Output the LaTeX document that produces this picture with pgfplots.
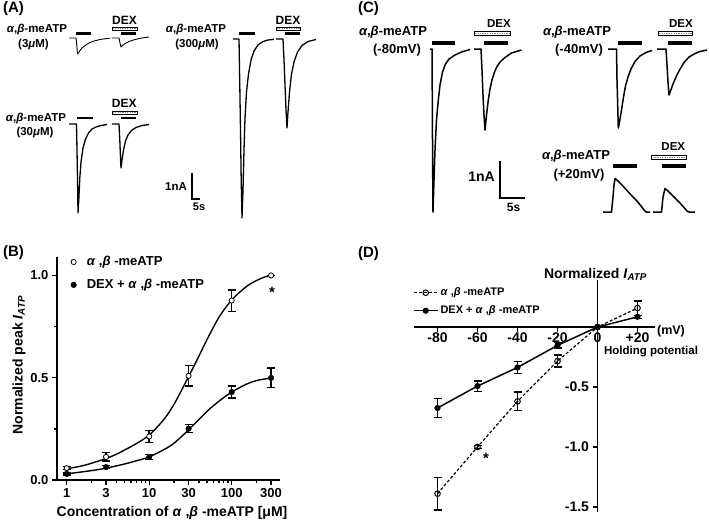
\documentclass[border=0pt]{standalone}
\usepackage{fontspec}
\setmainfont{Liberation Sans}
\usepackage{pgfplots}
\pgfplotsset{compat=1.18}

\newcommand{\fs}[1]{\fontsize{#1pt}{#1pt}\selectfont\bfseries}
\newcommand{\ab}{\textit{α},\textit{β}-meATP}
\newcommand{\absp}{\textit{α} ,\textit{β} -meATP}
% hatched DEX bar: x1 x2 y
\newcommand{\dexbar}[3]{%
  \draw[black, line width=0.6pt, fill=white] (#1,#3-1.6) rectangle (#2,#3+1.6);
  \draw[gray, line width=0.9pt, dash pattern=on 1.2pt off 1.2pt] (#1+0.8,#3) -- (#2-0.8,#3);}
% solid application bar: x1 x2 y width
\newcommand{\appbar}[4]{\draw[black, line width=#4] (#1,#3) -- (#2,#3);}

\pgfplotsset{trace/.style={black, line width=#1, line join=round, no marks}}

\begin{document}
\begin{tikzpicture}
\path[use as bounding box] (0pt,0pt) rectangle (709pt,-522pt);

% ---------- canvas in pixel units: panels A and C, all free text ----------
\begin{axis}[at={(0pt,0pt)}, anchor=north west, scale only axis,
  width=709pt, height=522pt, xmin=0, xmax=709, ymin=0, ymax=522,
  y dir=reverse, hide axis, clip=false]

% panel letters
\node[font=\fs{15}] at (13.5,9) {(A)};
\node[font=\fs{15}] at (13.5,253) {(B)};
\node[font=\fs{15}] at (368.5,9) {(C)};
\node[font=\fs{15}] at (368.5,254) {(D)};

% ---- A: 3 uM
\node[font=\fs{11.5}] at (37,30) {\ab};
\node[font=\fs{11.5}] at (33.5,45) {(3\textit{μ}M)};
\addplot[trace=0.9pt] coordinates {(69,38) (76,38) (76.8,45) (77.5,54) (78.5,53) (80,50.5) (82,48) (85,45.5) (89,43) (94,41) (100,39.5) (106,38.6) (110,38.2)};
\addplot[trace=0.9pt] coordinates {(112,38) (119,38) (120,43) (121,47) (122.5,45.5) (125,43.5) (129,41.5) (134,39.8) (140,38.3) (149,37)};
\appbar{76}{91}{33.3}{2.4pt}
\node[font=\fs{12}] at (124.5,20) {DEX};
\dexbar{112}{137}{28.7}
\appbar{121}{136}{33.3}{2.4pt}

% ---- A: 30 uM
\node[font=\fs{11.5}] at (36,119) {\ab};
\node[font=\fs{11.5}] at (35,133) {(30\textit{μ}M)};
\addplot[trace=1.3pt] coordinates {(69,124) (76.5,124) (77,150) (77.6,185) (78,213) (78.8,200) (79.8,178) (81,162) (83,148) (85.5,139) (88.5,133) (92,129) (96,127) (101,125.5) (107,124.5)};
\addplot[trace=1.3pt] coordinates {(112,124) (119,124) (119.8,140) (120.5,158) (121,168) (122,160) (123.5,150) (125.5,141) (128,135) (131.5,130.5) (136,127.5) (142,125.5) (149,124.5)};
\appbar{77.3}{92.7}{117.8}{2.4pt}
\node[font=\fs{12}] at (124.2,103.7) {DEX};
\dexbar{112}{137}{112.5}
\appbar{120.7}{136}{117.8}{2.4pt}

% ---- A: 300 uM
\node[font=\fs{11.5}] at (196,30) {\ab};
\node[font=\fs{11.5}] at (197,45) {(300\textit{μ}M)};
\addplot[trace=1.3pt] coordinates {(233,39) (239,39) (239.7,80) (240.5,130) (241.2,180) (242,218) (243,190) (244,150) (245,118) (246.5,92) (248.5,74) (251,60) (254,51) (258,45) (263,41.5) (268,40) (274,39.3)};
\addplot[trace=1.3pt] coordinates {(276,39) (283,39) (284,60) (285,85) (286,110) (287,128) (288,112) (289.5,92) (291.5,74) (294,62) (297.5,52) (302,45.5) (308,41.5) (316,39.5)};
\appbar{239.3}{255}{33.3}{2.4pt}
\node[font=\fs{12}] at (288,20) {DEX};
\dexbar{276}{300.7}{28.7}
\appbar{285}{300}{33.3}{2.4pt}

% ---- A: scale bar
\draw[line width=1.8pt] (192,173) -- (192,199) -- (200,199);
\node[font=\fs{11.5}] at (176,187) {1nA};
\node[font=\fs{11}] at (199,207) {5s};

% ---- C: -80 mV
\node[font=\fs{13}] at (393,32) {\ab};
\node[font=\fs{13}] at (397,50) {(-80mV)};
\addplot[trace=1.5pt] coordinates {(430,49) (432,49) (432.3,100) (432.6,160) (433,212) (434,180) (435,150) (436.5,120) (438.3,100) (440,85) (442.5,72) (445.5,64) (449,59) (455,55) (462,51.8) (470,49.5)};
\addplot[trace=1.5pt] coordinates {(474,49) (481,49) (482,70) (483,95) (484,115) (485,130) (486.5,115) (488.3,100) (490,89) (492,80) (494.5,72) (497,66.5) (500.5,61.5) (505,57.5) (511.5,53) (521.5,50)};
\appbar{432.3}{455}{43}{4pt}
\node[font=\fs{11.5}] at (499,23.3) {DEX};
\dexbar{474.3}{510}{33.3}
\appbar{484.3}{508.3}{43}{4pt}

% ---- C: -40 mV
\node[font=\fs{13}] at (577,32) {\ab};
\node[font=\fs{13}] at (579,50) {(-40mV)};
\addplot[trace=1.5pt] coordinates {(608,49) (616.5,49) (617,80) (617.7,105) (618.3,128) (619.5,122) (621.5,110) (623.5,97) (625.5,86) (628,77) (631,69) (635,61.5) (640,56) (646,52.5) (652,50.5)};
\addplot[trace=1.5pt] coordinates {(657,49) (666,49) (667,65) (668,82) (669,95) (670.5,91) (673,84) (676,77) (679.5,70) (684,62.5) (689,57) (695,53.5) (700,51.5) (707,50)};
\appbar{618.3}{641.7}{43}{4pt}
\node[font=\fs{11.5}] at (681,23.3) {DEX};
\dexbar{658.3}{692.3}{33.3}
\appbar{668.3}{692.3}{43}{4pt}

% ---- C: +20 mV
\node[font=\fs{13}] at (576,156) {\ab};
\node[font=\fs{13}] at (579,175) {(+20mV)};
\addplot[trace=1.5pt] coordinates {(603,212) (611.5,212) (613,197) (614,185) (615,178.5) (618,181) (622,185) (627,190.5) (632,196) (637,201) (641,206) (644,210) (646,212) (650,212)};
\addplot[trace=1.5pt] coordinates {(653,212) (661.5,212) (663,197) (665,188.5) (668,191) (672,195) (676,199) (680,203) (684,207.5) (687,211) (689,212) (695,212)};
\appbar{613.3}{636.7}{165.5}{4pt}
\node[font=\fs{11.5}] at (673.3,146.7) {DEX};
\dexbar{651.7}{686.7}{157.3}
\appbar{661.7}{685.7}{165.5}{4pt}

% ---- C: scale bar
\draw[line width=2.5pt] (500,161) -- (500,198) -- (525,198);
\node[font=\fs{14}] at (481.5,177) {1nA};
\node[font=\fs{12}] at (513.5,207) {5s};

% ---- B free text
\node[font=\fs{14}, rotate=90] at (19,365) {Normalized peak \textit{I}\textsubscript{\textit{ATP}}};
\node[font=\fs{14}] at (172,513) {Concentration of \textit{α} ,\textit{β} -meATP [μM]};
\node[font=\fs{15}] at (272,292) {*};

% ---- D free text
\node[font=\fs{14}] at (595.5,274) {Normalized \textit{I}\textsubscript{\textit{ATP}}};
\node[font=\fs{12.5}] at (671,331) {(mV)};
\node[font=\fs{11.5}] at (651,352) {Holding potential};
\node[font=\fs{15}] at (486,458) {*};
\end{axis}

% ---------- B: concentration-response ----------
\begin{axis}[at={(57pt,-480pt)}, anchor=south west, scale only axis,
  width=223pt, height=223pt, xmode=log, xmin=0.763, xmax=385, ymin=0, ymax=1.09,
  axis lines=left, axis line style={-, line width=1.5pt},
  xtick={1,3,10,30,100,300}, xticklabels={1,3,10,30,100,300},
  minor xtick={2,4,5,6,7,8,9,20,40,50,60,70,80,90,200},
  ytick={0,0.5,1}, yticklabels={0.0,0.5,1.0}, minor ytick={0.25,0.75},
  tick align=outside, major tick length=5pt, minor tick length=3pt,
  tick style={black, line width=1.3pt},
  tick label style={font=\fs{13}},
  clip=false,
  legend style={at={(rel axis cs:0.055,1.012)}, anchor=north west, draw=none, fill=none,
    font=\fs{13}, row sep=8pt, inner sep=0pt},
  legend cell align=left,
  legend image code/.code={\draw[#1] plot coordinates {(4pt,0pt)}; \path (0pt,0pt) (15pt,0pt);}]
\addplot[black, line width=1.4pt, smooth, forget plot] coordinates {(1,0.055) (1.5,0.068) (2,0.082) (3,0.105) (4,0.126) (5,0.146) (7,0.178) (10,0.22) (15,0.295) (20,0.37) (30,0.505) (40,0.605) (50,0.685) (70,0.795) (100,0.88) (150,0.945) (200,0.975) (250,0.992) (300,1.0)};
\addplot[black, line width=1.4pt, smooth, forget plot] coordinates {(1,0.03) (2,0.046) (3,0.058) (5,0.078) (7,0.094) (10,0.113) (15,0.148) (20,0.18) (30,0.245) (50,0.335) (70,0.385) (100,0.43) (150,0.468) (200,0.486) (300,0.499)};
\addplot[only marks, mark=*, mark size=2.6pt, mark options={fill=white, draw=black, line width=0.8pt},
  error bars/.cd, y dir=both, y explicit, error bar style={black, line width=1.4pt},
  error mark options={rotate=90, mark size=4pt, line width=1.4pt, black}]
  table[x=x, y=y, y error=e] {
x y e
1 0.058 0.008
3 0.113 0.02
10 0.213 0.03
30 0.509 0.05
100 0.877 0.052
300 1.0 0
};
\addlegendentry{\absp}
\addplot[only marks, mark=*, mark size=2.8pt, black,
  error bars/.cd, y dir=both, y explicit, error bar style={black, line width=1.4pt},
  error mark options={rotate=90, mark size=4pt, line width=1.4pt, black}]
  table[x=x, y=y, y error=e] {
x y e
1 0.03 0.005
3 0.063 0.008
10 0.112 0.013
30 0.251 0.02
100 0.43 0.03
300 0.499 0.048
};
\addlegendentry{DEX + \absp}
\end{axis}

% ---------- D: current-voltage ----------
\begin{axis}[at={(414pt,-512pt)}, anchor=south west, scale only axis,
  width=241pt, height=232pt, xmin=-91.75, xmax=28.75, ymin=-1.542, ymax=0.392,
  axis lines=middle, axis line style={-, line width=1.5pt},
  xtick={-80,-60,-40,-20,0,20}, xticklabels={-80,-60,-40,-20,0,+20},
  ytick={-1.5,-1,-0.5}, yticklabels={-1.5,-1.0,-0.5},
  hide obscured x ticks=false, hide obscured y ticks=false,
  tick align=outside, major tick length=5pt,
  tick style={black, line width=1.3pt},
  tick label style={font=\fs{14}},
  xticklabel style={yshift=2.5pt},
  clip=false,
  legend style={at={(rel axis cs:-0.005,0.975)}, anchor=north west, draw=none, fill=none,
    font=\fs{11}, row sep=4.5pt, inner sep=0pt},
  legend cell align=left,
  legend image code/.code={\draw[mark repeat=2, mark phase=2, #1] plot coordinates {(0pt,0pt) (12pt,0pt) (24pt,0pt)};}]
\addplot[black, line width=1.2pt, dash pattern=on 3pt off 2pt, mark=o, mark size=2.8pt,
  mark options={solid, line width=1pt},
  error bars/.cd, y dir=both, y explicit, error bar style={black, solid, line width=1.3pt},
  error mark options={rotate=90, mark size=4pt, line width=1.3pt, black, solid}]
  table[x=x, y=y, y error=e] {
x y e
-80 -1.389 0.136
-60 -1.0 0.01
-40 -0.62 0.078
-20 -0.284 0.05
0 0 0
20 0.158 0.06
};
\addlegendentry{\absp}
\addplot[black, line width=1.5pt, mark=*, mark size=2.3pt,
  error bars/.cd, y dir=both, y explicit, error bar style={black, line width=1.3pt},
  error mark options={rotate=90, mark size=4pt, line width=1.3pt, black}]
  table[x=x, y=y, y error=e] {
x y e
-80 -0.675 0.079
-60 -0.492 0.043
-40 -0.337 0.05
-20 -0.153 0.022
0 0 0
20 0.085 0.012
};
\addlegendentry{DEX + \absp}
\end{axis}
\end{tikzpicture}
\end{document}
